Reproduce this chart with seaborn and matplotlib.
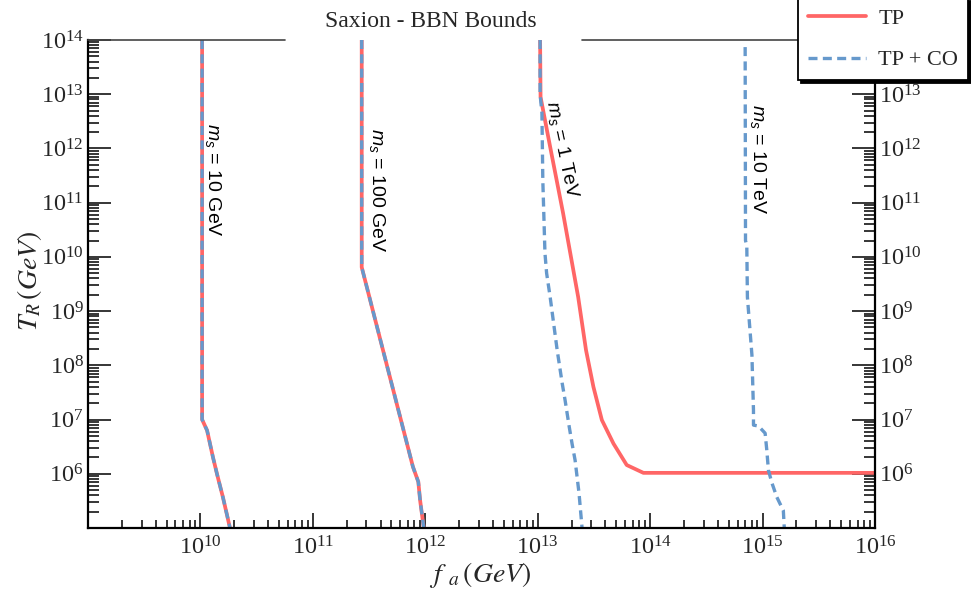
import numpy as np
import pandas as pd
import matplotlib
matplotlib.use("Agg")
import matplotlib.pyplot as plt
from matplotlib.ticker import FixedLocator, LogLocator, LogFormatterMathtext, NullFormatter
from matplotlib.lines import Line2D
import seaborn as sns

# ---------------- data ----------------
fa_10GeV = [1.035e10, 1.035e10, 1.146e10, 1.294e10, 1.406e10, 1.585e10, 1.832e10]
tr_10GeV = [1e14, 1e7, 6.3e6, 2.0e6, 9.8e5, 3.7e5, 1e5]

fa_100GeV = [2.72e11, 2.72e11, 7.76e11, 8.67e11, 9.0e11, 9.7e11]
tr_100GeV = [1e14, 6.46e9, 1.35e6, 7.1e5, 3.2e5, 1e5]

fa_1TeV_TP = [1.05e13, 1.06e13, 1.29e13, 1.68e13, 2.29e13, 2.69e13, 3.13e13,
              3.72e13, 4.72e13, 6.19e13, 8.71e13, 1e16]
tr_1TeV_TP = [1e14, 8.9e12, 1.07e12, 6.46e10, 1.82e9, 1.9e8, 4.0e7,
              9.8e6, 3.6e6, 1.45e6, 1.04e6, 1.04e6]

fa_1TeV_CO = [1.05e13, 1.05e13, 1.09e13, 1.11e13, 1.16e13, 1.20e13, 1.29e13, 1.49e13,
              1.65e13, 1.75e13, 1.91e13, 2.02e13, 2.15e13, 2.33e13, 2.48e13]
tr_1TeV_CO = [1e14, 1e13, 4.5e12, 2.6e11, 1.17e10, 5.0e9, 1.82e9, 1.9e8,
              4.7e7, 2.3e7, 7.2e6, 3.6e6, 1.78e6, 4.4e5, 1e5]

fa_10TeV_CO = [7.0e14, 7.05e14, 7.24e14, 7.33e14, 8.04e14, 8.3e14, 8.3e14, 9.18e14,
               1.054e15, 1.09e15, 1.127e15, 1.21e15, 1.34e15, 1.53e15, 1.56e15]
tr_10TeV_CO = [7.4e13, 2.0e10, 1.58e10, 1.82e9, 1.55e8, 1.48e7, 7.9e6, 7.6e6,
               5.6e6, 2.75e6, 1.17e6, 6.8e5, 3.7e5, 2.1e5, 1e5]

series_names = ["TP", "TP + CO"]
mass_labels = ["10 GeV", "100 GeV", "1 TeV", "10 TeV"]
label_x = [1.29e10, 3.72e11, 1.65e13, 9.14e14]
label_y = [2.63e11, 1.70e11, 9.3e11, 6.3e11]
label_rot = [-90, -90, -78, -90]

x_major = [1e10, 1e11, 1e12, 1e13, 1e14, 1e15, 1e16]
y_major = [1e6, 1e7, 1e8, 1e9, 1e10, 1e11, 1e12, 1e13, 1e14]

RED = "#FF6666"
BLUE = "#6699CC"
RED_LW = 2.7
BLUE_LW = 2.4
BLUE_DASH = (0, (2.7, 1.6))

# ---------------- style ----------------
sns.set_theme(style="white")
plt.rcParams["font.family"] = ["Liberation Serif", "DejaVu Serif"]
plt.rcParams["mathtext.fontset"] = "stix"
plt.rcParams["mathtext.rm"] = "Liberation Sans"
plt.rcParams["mathtext.it"] = "Liberation Sans:italic"
plt.rcParams["mathtext.bf"] = "Liberation Sans:bold"

fig = plt.figure(figsize=(9.71, 6.01), dpi=100)
ax = fig.add_axes([88 / 971, 1 - 528 / 601, (875 - 88) / 971, (528 - 40) / 601])
ax.set_xscale("log")
ax.set_yscale("log")

def tidy(fa, tr, series):
    return pd.DataFrame({"fa": fa, "TR": tr, "series": series})

red_curves = [(fa_10GeV, tr_10GeV), (fa_100GeV, tr_100GeV), (fa_1TeV_TP, tr_1TeV_TP)]
blue_curves = [(fa_10GeV, tr_10GeV), (fa_100GeV, tr_100GeV), (fa_1TeV_CO, tr_1TeV_CO),
               (fa_10TeV_CO, tr_10TeV_CO)]

for fa, tr in red_curves:
    sns.lineplot(data=tidy(fa, tr, series_names[0]), x="fa", y="TR", ax=ax,
                 sort=False, estimator=None, color=RED, linewidth=RED_LW,
                 solid_capstyle="butt", legend=False)
for fa, tr in blue_curves:
    sns.lineplot(data=tidy(fa, tr, series_names[1]), x="fa", y="TR", ax=ax,
                 sort=False, estimator=None, color=BLUE, linewidth=BLUE_LW,
                 linestyle=BLUE_DASH, legend=False)

ax.set_xlim(1e9, 1e16)
ax.set_ylim(1e5, 1e14)

# curve annotations
for lbl, lx, ly, rot in zip(mass_labels, label_x, label_y, label_rot):
    ax.text(lx, ly, r"$m_s$ = " + lbl, rotation=rot, ha="center", va="center",
            fontsize=14, family="Liberation Sans", math_fontfamily="custom",
            color="black")

# ticks
ax.xaxis.set_major_locator(FixedLocator(x_major))
ax.yaxis.set_major_locator(FixedLocator(y_major))
ax.xaxis.set_minor_locator(LogLocator(base=10, subs=np.arange(2, 10), numticks=30))
ax.yaxis.set_minor_locator(LogLocator(base=10, subs=np.arange(2, 10), numticks=30))
ax.xaxis.set_major_formatter(LogFormatterMathtext())
ax.yaxis.set_major_formatter(LogFormatterMathtext())
ax.xaxis.set_minor_formatter(NullFormatter())
ax.yaxis.set_minor_formatter(NullFormatter())

ax.tick_params(axis="y", which="major", direction="in", length=16.5, width=1.1,
               left=True, right=True, labelleft=True, labelright=True,
               labelsize=17.5, pad=3, color="black")
ax.tick_params(axis="y", which="minor", direction="in", length=8, width=1.1,
               left=True, right=True, color="black")
ax.tick_params(axis="x", which="major", direction="in", length=11, width=1.1,
               bottom=True, top=False, labelsize=17.5, pad=6, color="black")
ax.tick_params(axis="x", which="minor", direction="in", length=5.5, width=1.1,
               bottom=True, top=False, color="black")

for s in ["left", "right", "bottom"]:
    ax.spines[s].set_linewidth(1.6)
    ax.spines[s].set_color("black")
ax.spines["top"].set_visible(False)
ax.plot([0, (285 - 88) / 787], [1, 1], transform=ax.transAxes, color="#444444",
        lw=1.2, clip_on=False, zorder=5)
ax.plot([(582 - 88) / 787, 1.0], [1, 1], transform=ax.transAxes, color="#444444",
        lw=1.2, clip_on=False, zorder=5)

# axis labels
ax.set_xlabel(r"$f_{\;\;a}\,(GeV)$", fontsize=20, math_fontfamily="stix")
ax.xaxis.set_label_coords((480 - 88) / 787, (528 - 560) / 488)
ax.set_ylabel(r"$T_{R}\,(GeV)$", fontsize=20, math_fontfamily="stix")
ax.yaxis.set_label_coords((30 - 88) / 787, (528 - 281) / 488)
ax.yaxis.label.set_verticalalignment("center")

ax.set_title("Saxion - BBN Bounds", fontsize=17, x=(431 - 88) / 787, pad=9.4)

# the right-hand 10^14 label sits under the legend in the reference
fig.canvas.draw()
for tick in ax.yaxis.get_major_ticks():
    if abs(np.log10(tick.get_loc()) - 14) < 1e-6:
        tick.label2.set_visible(False)

# legend
handles = [Line2D([], [], color=RED, lw=RED_LW),
           Line2D([], [], color=BLUE, lw=BLUE_LW, linestyle=BLUE_DASH)]
leg = fig.legend(handles, series_names, loc="upper right",
                 bbox_to_anchor=(968 / 971, 1.003), fontsize=16,
                 frameon=True, fancybox=False, shadow={"facecolor": "black",
                                                       "edgecolor": "black",
                                                       "alpha": 1},
                 edgecolor="black", framealpha=1, handlelength=2.6,
                 handletextpad=0.55, borderpad=0.45, labelspacing=0.95,
                 borderaxespad=0)
leg.get_frame().set_linewidth(1.3)

fig.savefig("out.png", dpi=100)
